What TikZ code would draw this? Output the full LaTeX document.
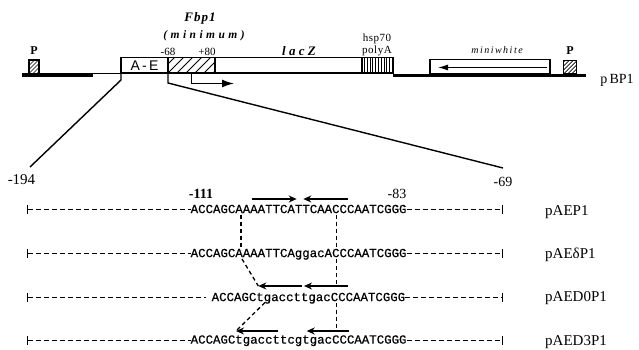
\documentclass[tikz,border=0pt]{standalone}
\usepackage{fontspec}
\setmainfont{Liberation Serif}
\newfontfamily\seqf[FakeBold=0.6]{Liberation Mono}
\newfontfamily\sansf{Liberation Sans}
\usetikzlibrary{arrows.meta}
\newcommand{\myfs}[1]{\fontsize{#1}{#1}\selectfont}
\newcommand{\lsp}[1]{\addfontfeature{LetterSpace=#1}}
\begin{document}
\begin{tikzpicture}[x=1pt,y=-1pt,
 box/.style={draw,line width=1.1pt,inner sep=0pt,outer sep=0pt,fill=white},
 lbl/.style={inner sep=0pt},
 seq/.style={inner sep=0pt,font=\seqf\myfs{12.4}},
 rowdash/.style={line width=0.8pt,dash pattern=on 5pt off 3pt},
 link/.style={line width=1.3pt,dash pattern=on 4pt off 3pt},
 sarrow/.style={line width=1.4pt,-{Stealth[length=8pt,width=7pt]}},
 thickline/.style={line width=3.8pt},
 explode/.style={line width=1.4pt},
 hatchA/.style={path picture={\foreach \i in {-18,-9,...,45}{\draw[line width=0.9pt] ([xshift=\i pt]path picture bounding box.south west) -- ++(18pt,18pt);}}},
 hatchP/.style={path picture={\foreach \i in {-12,-8,...,14}{\draw[line width=0.7pt] ([xshift=\i pt]path picture bounding box.south west) -- ++(16pt,16pt);}}},
 stripes/.style={path picture={\foreach \i in {2.5,5.3,...,30}{\draw[line width=1pt] ([xshift=\i pt]path picture bounding box.south west) -- ++(0pt,17pt);}}},
 rlab/.style={inner sep=0pt,anchor=west,font=\myfs{15}},
]
\useasboundingbox (0,0) rectangle (639,350);

% ---------- top construct ----------
\coordinate (tl0) at (22,75); \coordinate (tl1) at (93,75);
\coordinate (tn0) at (93,73);
\coordinate (tr0) at (393,75.5); \coordinate (tr1) at (586,75.5);
\draw[thickline] (tl0) -- (tl1);
\draw[thickline] (tr0) -- (tr1);

\node[box,minimum width=47pt,minimum height=15.5pt,font=\sansf\myfs{14}] (ae) at (144.5,65.25) {A\,-\,E};
\node[box,minimum width=47pt,minimum height=15.5pt,hatchA] (hb) at (191.5,65.25) {};
\node[box,minimum width=147pt,minimum height=15.5pt] (lz) at (288.5,65.25) {};
\node[box,minimum width=31pt,minimum height=15.5pt,stripes] (pa) at (377.5,65.25) {};
\node[box,minimum width=120pt,minimum height=14.5pt] (mw) at (490,66.75) {};
\node[box,minimum width=10pt,minimum height=13.5pt,hatchP] (pl) at (34,66.75) {};
\node[box,minimum width=13pt,minimum height=13.5pt,hatchP] (pr) at (570,67.25) {};
\draw[line width=0.9pt] (tn0) -- (ae.south west);

% labels top
\node[lbl,font=\bfseries\myfs{12}] (Pl) at (34,50.5) {P};
\node[lbl,font=\bfseries\myfs{12}] (Pr) at (570,50.5) {P};
\node[lbl,font=\myfs{11}] (m68) at (168,52) {-68};
\node[lbl,font=\myfs{11}] (p80) at (207,52) {+80};
\node[lbl,font=\bfseries\itshape\myfs{13}\lsp{8}] (fbp) at (200,18) {Fbp1};
\node[lbl,font=\bfseries\itshape\myfs{11.5}\lsp{30}] (mini) at (204,36) {(minimum)};
\node[lbl,font=\bfseries\itshape\myfs{13}\lsp{25}] (lac) at (299,51) {lacZ};
\node[lbl,font=\myfs{11}\lsp{5}] (hsp) at (377,39) {hsp70};
\node[lbl,font=\myfs{11}\lsp{5}] (pol) at (377,51) {polyA};
\node[lbl,font=\itshape\myfs{10}\lsp{15}] (mwl) at (497,50.5) {miniwhite};
\node[lbl,font=\myfs{14}] (pbp) at (617,80) {p\,BP1};

% arrows top
\coordinate (mwA) at (547,67.5); \coordinate (mwB) at (438,67.5);
\draw[line width=1.1pt,-{Latex[length=10pt,width=6pt]}] (mwA) -- (mwB);
\coordinate (pr0) at (191.7,73); \coordinate (pr1) at (234,83.5);
\draw[line width=1.3pt,-{Latex[length=12pt,width=8pt]}] (pr0) |- (pr1);

% expansion lines
\coordinate (lft) at (30,167); \coordinate (rgt) at (503,168);
\draw[explode] (ae.south west) -- ++(0,7) -- (lft);
\draw[explode] (hb.south west) -- ++(0,10) -- (rgt);
\node[lbl,font=\myfs{15}] (n194) at (21.5,180) {-194};
\node[lbl,font=\myfs{14}] (n69) at (503,182) {-69};

% ---------- sequence rows ----------
\coordinate (L1) at (27,209.5); \coordinate (R1) at (503,209.5);
\coordinate (L2) at (27,253.5); \coordinate (R2) at (503,253.5);
\coordinate (L3) at (27,297.5); \coordinate (R3) at (503,297.5);
\coordinate (L4) at (27,340); \coordinate (R4) at (503,340);

\node[seq,anchor=base west] (s1) at (190.5,213.1) {ACCAGCAAAATTCATTCAACCCAATCGGG};
\node[seq,anchor=base west] (s2) at (190.5,257.1) {ACCAGCAAAATTCAggacACCCAATCGGG};
\node[seq,anchor=base west] (s3) at (211.5,301.1) {ACCAGCtgaccttgacCCCAATCGGG};
\node[seq,anchor=base west] (s4) at (190.5,343.6) {ACCAGCtgaccttcgtgacCCCAATCGGG};

\draw[rowdash,{Bar[width=9pt,line width=1pt]}-] (L1) -- (s1.west |- L1);
\draw[rowdash,-{Bar[width=9pt,line width=1pt]}] (s1.east |- R1) -- (R1);
\draw[rowdash,{Bar[width=9pt,line width=1pt]}-] (L2) -- (s2.west |- L2);
\draw[rowdash,-{Bar[width=9pt,line width=1pt]}] (s2.east |- R2) -- (R2);
\draw[rowdash,{Bar[width=9pt,line width=1pt]}-] (L3) -- ([xshift=-6pt]s3.west |- L3);
\draw[rowdash,-{Bar[width=9pt,line width=1pt]}] (s3.east |- R3) -- (R3);
\draw[rowdash,{Bar[width=9pt,line width=1pt]}-] (L4) -- (s4.west |- L4);
\draw[rowdash,-{Bar[width=9pt,line width=1pt]}] (s4.east |- R4) -- (R4);

\node[lbl,font=\bfseries\myfs{14}] (n111) at (201,194) {-111};
\node[lbl,font=\myfs{14}] (n83) at (397,194) {-83};

% inverted repeat arrows
\coordinate (a11s) at (251.7,199); \coordinate (a11e) at (296.7,199);
\coordinate (a12s) at (348,199); \coordinate (a12e) at (303.3,199);
\draw[sarrow] (a11s) -- (a11e);
\draw[sarrow] (a12s) -- (a12e);
\coordinate (a31s) at (301.7,286); \coordinate (a31e) at (258.3,286);
\coordinate (a32s) at (348.3,286); \coordinate (a32e) at (304,286);
\draw[sarrow] (a31s) -- (a31e);
\draw[sarrow] (a32s) -- (a32e);
\coordinate (a41s) at (278,331); \coordinate (a41e) at (236,331);
\coordinate (a42s) at (349,331); \coordinate (a42e) at (306.7,331);
\draw[sarrow] (a41s) -- (a41e);
\draw[sarrow] (a42s) -- (a42e);

% dashed links between rows
\coordinate (v1a) at (241,214.5); \coordinate (v1b) at (241,249.5);
\coordinate (v2a) at (336.7,214.5); \coordinate (v2b) at (336.7,249.5);
\draw[link] (v1a) -- (v1b);
\draw[link] (v2a) -- (v2b);
\coordinate (d1a) at (242,259); \coordinate (v3a) at (336.7,259); \coordinate (v3b) at (336.7,286);
\draw[link] (d1a) -- (a31e);
\draw[link] (v3a) -- (v3b);
\coordinate (d2a) at (265,302.5); \coordinate (v4a) at (336.7,302.5); \coordinate (v4b) at (336.7,331);
\draw[link] (d2a) -- (a41e);
\draw[link] (v4a) -- (v4b);

% row labels
\node[rlab] (n1) at (545,212) {pAEP1};
\node[rlab] (n2) at (545,255) {pAEδP1};
\node[rlab] (n3) at (545,298.5) {pAED0P1};
\node[rlab] (n4) at (545,342) {pAED3P1};
\end{tikzpicture}
\end{document}
